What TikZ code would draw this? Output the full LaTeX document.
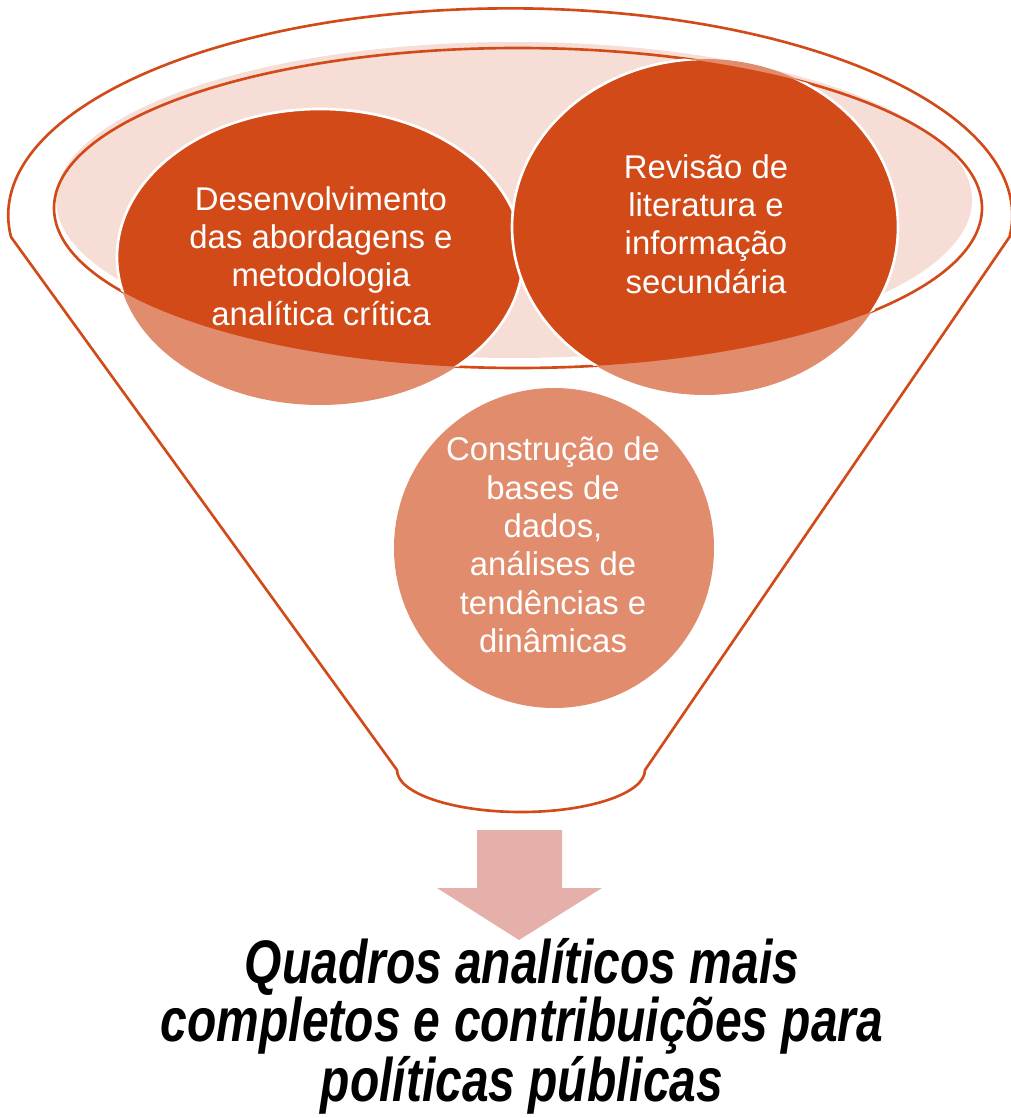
\documentclass[tikz,border=0pt]{standalone}
\usepackage{fontspec}
\setmainfont{Liberation Sans}
\newfontfamily\narrowfont[FakeStretch=0.78]{Liberation Sans}
\usetikzlibrary{calc}

\definecolor{rimorange}{RGB}{209,74,24}
\definecolor{lightorange}{RGB}{226,140,110}
\definecolor{palepink}{RGB}{246,221,214}
\definecolor{arrowpink}{RGB}{230,176,170}

\begin{document}
\begin{tikzpicture}[x=0.02cm, y=-0.02cm,
		rim/.style={draw=rimorange, line width=1.5pt},
		solidball/.style={fill=rimorange, draw=white, line width=1.5pt},
		softball/.style={fill=lightorange},
		balltext/.style={text=white, align=center, inner sep=0pt, font=\fontsize{18.7}{21.8}\selectfont},
		resulttext/.style={align=center, inner sep=0pt, font=\narrowfont\bfseries\itshape\fontsize{35}{31}\selectfont}]
		
		\useasboundingbox (0,0) rectangle (1010,1118);
		
		%Coordinates
		\coordinate (E) at (518,208);
		\coordinate (L) at (320,257);
		\coordinate (R) at (705,227);
		\coordinate (M) at (554,548);
		
		%Funnel
		\draw[rim] (11,237) arc[start angle=174, end angle=366, x radius=502, y radius=207] -- (645,770)
			arc[start angle=0, end angle=180, x radius=124, y radius=42] -- cycle;
		\fill[palepink] (514,200) ellipse[x radius=458, y radius=158];
		\draw[rim] (E) ellipse[x radius=464, y radius=160];
		
		%Balls
		\fill[softball] (L) ellipse[x radius=203, y radius=148];
		\fill[softball] (R) ellipse[x radius=193, y radius=168];
		\fill[softball] (M) circle[radius=160];
		\begin{scope}
			\clip (E) ellipse[x radius=464, y radius=160];
			\draw[solidball] (L) ellipse[x radius=203, y radius=148];
			\draw[solidball] (R) ellipse[x radius=193, y radius=168];
		\end{scope}
		
		%Arrow
		\fill[arrowpink] (477,830) -- (562,830) -- (562,888) -- (602,888) -- (519,940) -- (437,888) -- (477,888) -- cycle;
		
		%Nodes
		\node[balltext] (desenv) at (321,256) {Desenvolvimento\\das abordagens e\\metodologia\\analítica crítica};
		\node[balltext] (revisao) at (706,224) {Revisão de\\literatura e\\informação\\secundária};
		\node[balltext] (construcao) at (553,545) {Construção de\\bases de\\dados,\\análises de\\tendências e\\dinâmicas};
		\node[resulttext] (quadros) at (522,1026) {Quadros analíticos mais\\completos e contribuições para\\políticas públicas};
		
	\end{tikzpicture}
\end{document}
